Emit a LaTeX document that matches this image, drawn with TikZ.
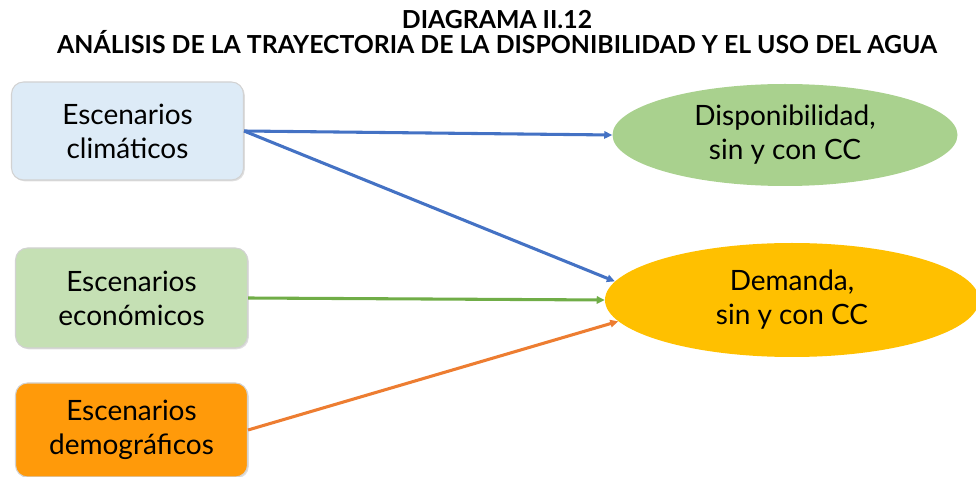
\documentclass[tikz,border=0pt]{standalone}
\usepackage{fontspec}
\setmainfont{Lato}
\usetikzlibrary{arrows.meta,shapes.geometric,shadows}
\definecolor{cbox}{HTML}{DDEBF7}
\definecolor{gbox}{HTML}{C5E0B4}
\definecolor{obox}{HTML}{FF9A0A}
\definecolor{gell}{HTML}{A9D18E}
\definecolor{yell}{HTML}{FFC000}
\definecolor{ablue}{HTML}{4472C4}
\definecolor{agreen}{HTML}{70AD47}
\definecolor{aorange}{HTML}{ED7D31}
\tikzset{
  scen/.style={rectangle, rounded corners=9pt, draw=gray!35, line width=0.8pt,
    minimum width={232*0.75pt}, align=center, font=\fontsize{21}{25.5}\selectfont,
    drop shadow={opacity=0.25, shadow xshift=1pt, shadow yshift=-1pt}},
  res/.style={ellipse, draw=none, align=center, inner sep=0pt, font=\fontsize{21}{25.5}\selectfont},
  conn/.style={line width=2.3pt, -{Triangle[length=6pt,width=5.5pt]}},
  ttl/.style={font=\fontsize{18.6}{16.5}\selectfont\bfseries, align=center}
}
\begin{document}
\begin{tikzpicture}[x=0.75pt,y=-0.75pt]
\useasboundingbox (0,0) rectangle (976,477);
\node[ttl] (title) at (497,32) {DIAGRAMA II.12\\ANÁLISIS DE LA TRAYECTORIA DE LA DISPONIBILIDAD Y EL USO DEL AGUA};
\node[scen, fill=cbox, minimum height={98*0.75pt}] (clim) at (127.5,131) {Escenarios\\climáticos};
\node[scen, fill=gbox, minimum height={100*0.75pt}] (econ) at (131.5,298) {Escenarios\\económicos};
\node[scen, fill=obox, minimum height={94*0.75pt}] (demo) at (131.5,430) {Escenarios\\demográficos};
\node[res, fill=gell, minimum width={345*0.75pt}, minimum height={102*0.75pt}] (disp) at (785,135) {Disponibilidad,\\sin y con CC};
\node[res, fill=yell, minimum width={374*0.75pt}, minimum height={114*0.75pt}] (dem) at (792,300) {Demanda,\\sin y con CC};
\draw[conn, ablue] (clim.east) -- (disp.west);
\draw[conn, ablue] (clim.east) -- (dem.174);
\draw[conn, agreen] (econ.east) -- (dem.west);
\draw[conn, aorange] (demo.east) -- (dem.187);
\end{tikzpicture}
\end{document}
